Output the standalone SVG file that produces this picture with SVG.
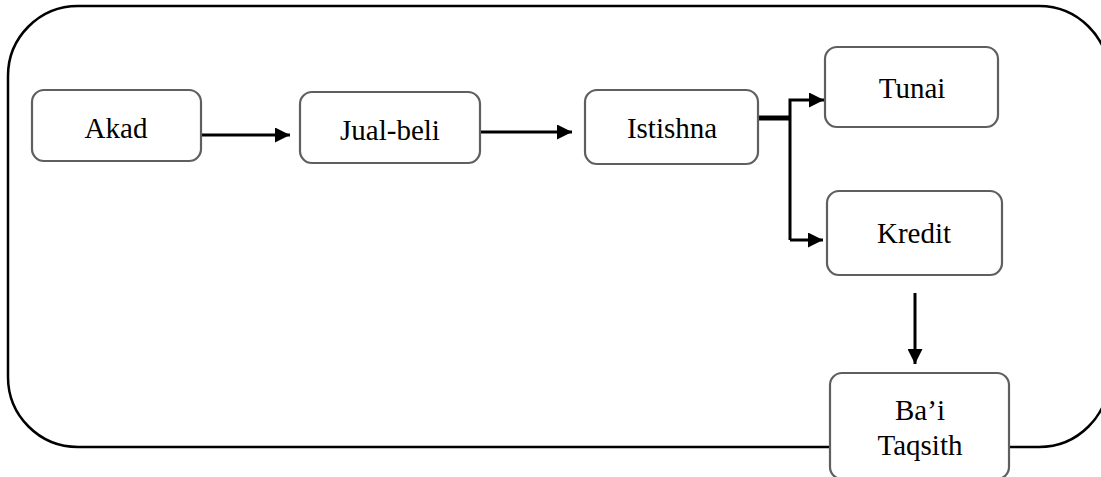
<svg xmlns="http://www.w3.org/2000/svg" width="1101" height="477" viewBox="0 0 1101 477">
  <style>
    .frame { fill: none; stroke: #000; stroke-width: 2.5; }
    .box { fill: #fff; stroke: #5f5f5f; stroke-width: 2.2; }
    .label { font-family: "Liberation Serif", "Times New Roman", serif; font-size: 29px; fill: #000; text-anchor: middle; }
    .link { fill: none; stroke: #000; stroke-width: 3; }
    .trunk { fill: none; stroke: #000; stroke-width: 5; }
  </style>
  <defs>
    <marker id="arrow" viewBox="0 0 10 10" refX="10" refY="5" markerWidth="5" markerHeight="5" markerUnits="strokeWidth" orient="auto">
      <path d="M0,0 L10,5 L0,10 Z" fill="#000"/>
    </marker>
  </defs>

  <!-- surrounding frame -->
  <rect class="frame" x="8" y="6" width="1101" height="441" rx="70" ry="70"/>

  <g id="connectors">
    <line class="link" x1="202" y1="135" x2="290" y2="135" marker-end="url(#arrow)"/>
    <line class="link" x1="481" y1="132" x2="572" y2="132" marker-end="url(#arrow)"/>
    <line class="trunk" x1="759" y1="118" x2="790" y2="118"/>
    <polyline class="link" points="790,240 790,100 824,100" marker-end="url(#arrow)"/>
    <line class="link" x1="790" y1="240" x2="823" y2="240" marker-end="url(#arrow)"/>
    <line class="link" x1="915" y1="293" x2="915" y2="364" marker-end="url(#arrow)"/>
  </g>

  <g id="akad">
    <rect class="box" x="32" y="90" width="169" height="71" rx="12"/>
    <text class="label" x="116" y="138">Akad</text>
  </g>
  <g id="jual-beli">
    <rect class="box" x="300" y="92" width="180" height="71" rx="12"/>
    <text class="label" x="390" y="140">Jual-beli</text>
  </g>
  <g id="istishna">
    <rect class="box" x="585" y="90" width="173" height="74" rx="12"/>
    <text class="label" x="672" y="138">Istishna</text>
  </g>
  <g id="tunai">
    <rect class="box" x="825" y="47" width="173" height="80" rx="12"/>
    <text class="label" x="912" y="98">Tunai</text>
  </g>
  <g id="kredit">
    <rect class="box" x="827" y="191" width="175" height="84" rx="12"/>
    <text class="label" x="914" y="243">Kredit</text>
  </g>
  <g id="bai-taqsith">
    <rect class="box" x="830" y="373" width="179" height="106" rx="12"/>
    <text class="label" x="920" y="420">Ba’i</text>
    <text class="label" x="920" y="455">Taqsith</text>
  </g>
</svg>
